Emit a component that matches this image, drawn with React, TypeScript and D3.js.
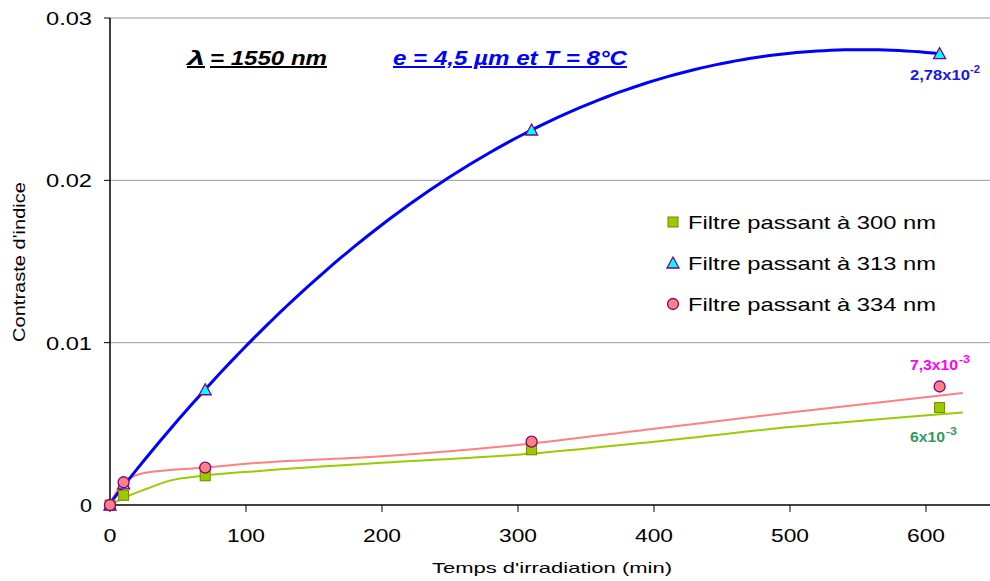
import React from "react";
import * as d3 from "d3";

const times = [0, 10, 70, 310, 610];
const f300 = [0, 0.0006, 0.0018, 0.0034, 0.006];
const f313 = [0, 0.0013, 0.0071, 0.0231, 0.0278];
const f334 = [0, 0.0014, 0.0023, 0.0039, 0.0073];

// hand-drawn trend curves (time, value)
const trend300: [number, number][] = [
  [0, 0], [12, 0.0005], [27, 0.001], [44, 0.0015], [68, 0.0018], [110, 0.0021],
  [200, 0.0026], [300, 0.0031], [400, 0.0039], [500, 0.0048], [627, 0.0057],
];
const trend334: [number, number][] = [
  [0, 0.0001], [10, 0.0014], [27, 0.002], [68, 0.0023], [110, 0.0026],
  [200, 0.003], [300, 0.0037], [400, 0.0047], [500, 0.0057], [627, 0.0069],
];

const xTicks = [0, 100, 200, 300, 400, 500, 600];
const yTicks = [0, 0.01, 0.02, 0.03];
const legendLabels = ["Filtre passant à 300 nm", "Filtre passant à 313 nm", "Filtre passant à 334 nm"];

function polyFit(xs: number[], ys: number[], deg: number): number[] {
  const n = deg + 1;
  const s = 1 / 100; // scale x for numerical stability
  const A: number[][] = Array.from({ length: n }, () => new Array(n + 1).fill(0));
  for (let k = 0; k < xs.length; k++) {
    const xv = xs[k] * s;
    for (let i = 0; i < n; i++) {
      for (let j = 0; j < n; j++) A[i][j] += Math.pow(xv, i + j);
      A[i][n] += ys[k] * Math.pow(xv, i);
    }
  }
  for (let i = 0; i < n; i++) {
    let p = i;
    for (let r = i + 1; r < n; r++) if (Math.abs(A[r][i]) > Math.abs(A[p][i])) p = r;
    const tmp = A[i]; A[i] = A[p]; A[p] = tmp;
    for (let r = 0; r < n; r++) {
      if (r === i) continue;
      const f = A[r][i] / A[i][i];
      for (let c = i; c <= n; c++) A[r][c] -= f * A[i][c];
    }
  }
  return A.map((row, i) => (row[n] / row[i]) * Math.pow(s, i));
}

const font = "Arial, 'Liberation Sans', sans-serif";

function T(props: {
  x: number; y: number; w: number; size: number; anchor?: "start" | "middle" | "end";
  fill?: string; bold?: boolean; italic?: boolean; underline?: boolean; transform?: string; children: React.ReactNode;
}) {
  const { x, y, w, size, anchor = "start", fill = "#000", bold, italic, underline, transform, children } = props;
  return (
    <text
      x={x} y={y} textAnchor={anchor} fontFamily={font} fontSize={size} fill={fill}
      fontWeight={bold ? "bold" : "normal"} fontStyle={italic ? "italic" : "normal"}
      textDecoration={underline ? "underline" : undefined}
      textLength={w} lengthAdjust="spacingAndGlyphs" transform={transform}
    >
      {children}
    </text>
  );
}

export default function App() {
  const W = 990, H = 581;
  const left = 110, top = 18, bottom = 505;
  const x = d3.scaleLinear().domain([0, 650]).range([left, left + 884]);
  const y = d3.scaleLinear().domain([0, 0.03]).range([bottom, top]);

  const coef = polyFit(times, f313, 3);
  const blueCurve = d3.range(0, 611, 5).map((t) => [t, coef.reduce((s, c, i) => s + c * Math.pow(t, i), 0)] as [number, number]);

  const line = d3.line<[number, number]>().x((d) => x(d[0])).y((d) => y(d[1]));
  const smooth = d3.line<[number, number]>().x((d) => x(d[0])).y((d) => y(d[1])).curve(d3.curveMonotoneX);

  const square = (cx: number, cy: number, key: string) => (
    <rect key={key} x={cx - 5} y={cy - 5} width={10} height={10} fill="#99cc00" stroke="#808000" strokeWidth={1} />
  );
  const tri = (cx: number, cy: number, key: string) => (
    <path key={key} d={`M${cx},${cy - 6}L${cx + 6},${cy + 5}L${cx - 6},${cy + 5}Z`} fill="#00ffff" stroke="#800080" strokeWidth={1.3} />
  );
  const circ = (cx: number, cy: number, key: string) => (
    <circle key={key} cx={cx} cy={cy} r={5.5} fill="#ff8080" stroke="#800080" strokeWidth={1.3} />
  );

  return (
    <svg width={W} height={H} style={{ position: "absolute", left: 0, top: 0, background: "#fff" }}>
      {/* grid */}
      {yTicks.filter((t) => t > 0).map((t) => (
        <line key={t} x1={left} x2={W} y1={y(t)} y2={y(t)} stroke="#999" strokeWidth={1} />
      ))}
      {/* axes */}
      <line x1={left} x2={left} y1={top} y2={bottom} stroke="#000" strokeWidth={1.5} />
      <line x1={left} x2={W} y1={bottom} y2={bottom} stroke="#000" strokeWidth={1.5} />
      {yTicks.map((t) => (
        <g key={t}>
          <line x1={left - 6} x2={left} y1={y(t)} y2={y(t)} stroke="#000" />
          <T x={92} y={y(t) + 7} w={t === 0 ? 12 : 46} size={18} anchor="end">{t === 0 ? "0" : t.toFixed(2)}</T>
        </g>
      ))}
      {xTicks.map((t) => (
        <g key={t}>
          <line x1={x(t)} x2={x(t)} y1={bottom} y2={bottom + 7} stroke="#000" />
          <T x={x(t)} y={542} w={t === 0 ? 13 : 38} size={19} anchor="middle">{String(t)}</T>
        </g>
      ))}
      <T x={552} y={573} w={240} size={15} anchor="middle">Temps d'irradiation (min)</T>
      <T x={0} y={0} w={160} size={16} anchor="middle" transform="translate(25,262) rotate(-90)">Contraste d'indice</T>

      {/* trend lines */}
      <path d={smooth(trend300) || ""} fill="none" stroke="#99cc00" strokeWidth={2} />
      <path d={smooth(trend334) || ""} fill="none" stroke="#ff8080" strokeWidth={2} />
      <path d={line(blueCurve) || ""} fill="none" stroke="#0000ff" strokeWidth={3} />

      {/* markers */}
      {times.map((t, i) => square(x(t), y(f300[i]), "s" + i))}
      {times.map((t, i) => tri(x(t), y(f313[i]), "t" + i))}
      {times.map((t, i) => circ(x(t), y(f334[i]), "c" + i))}

      {/* annotations */}
      <T x={187} y={65} w={18} size={20} bold italic underline>λ</T>
      <T x={210} y={65} w={117} size={20} bold italic underline>= 1550 nm</T>
      <T x={393} y={65} w={234} size={20} bold italic underline fill="#0000ff">e = 4,5 µm et T = 8°C</T>

      <T x={910} y={80} w={60} size={14} bold fill="#1a1ae6">2,78x10</T>
      <T x={970} y={73} w={10} size={10} bold fill="#1a1ae6">-2</T>
      <T x={910} y={370} w={48} size={14} bold fill="#ff00ff">7,3x10</T>
      <T x={959} y={363} w={11} size={10} bold fill="#ff00ff">-3</T>
      <T x={910} y={442} w={35} size={14} bold fill="#339966">6x10</T>
      <T x={946} y={435} w={11} size={10} bold fill="#339966">-3</T>

      {/* legend */}
      {legendLabels.map((l, i) => {
        const ly = 222 + i * 41;
        return (
          <g key={l}>
            {i === 0 ? square(673, ly, "ls") : i === 1 ? tri(673, ly, "lt") : circ(673, ly, "lc")}
            <T x={688} y={ly + 7} w={248} size={19}>{l}</T>
          </g>
        );
      })}
    </svg>
  );
}
